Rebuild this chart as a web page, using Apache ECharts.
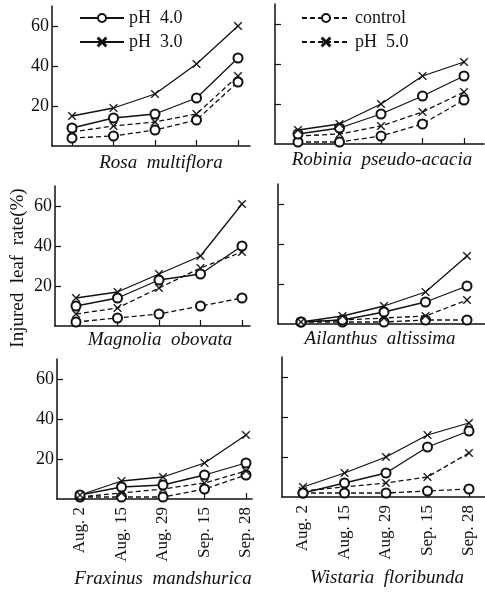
<!DOCTYPE html>
<html>
<head>
<meta charset="utf-8">
<script src="https://cdn.jsdelivr.net/npm/echarts@6/dist/echarts.min.js"></script>
<style>
  html, body { margin: 0; padding: 0; background: #fff; }
  #chart { width: 485px; height: 592px; }
</style>
</head>
<body>
<div id="chart"></div>
<script>
// sampling dates (x categories)
const dates = ['Aug. 2', 'Aug. 15', 'Aug. 29', 'Sep. 15', 'Sep. 28'];
const species = ['Rosa  multiflora', 'Robinia  pseudo-acacia', 'Magnolia  obovata',
  'Ailanthus  altissima', 'Fraxinus  mandshurica', 'Wistaria  floribunda'];
const yTicks = [20, 40, 60];

// injured leaf rate (%) per species, one list per treatment
const ph30 = [
  [15, 19, 26, 41, 60],
  [7, 10, 20, 34, 41],
  [14, 17, 26, 35, 61],
  [1, 4, 9, 16, 34],
  [2, 9, 11, 18, 32],
  [5, 12, 20, 31, 37]
];
const ph40 = [
  [9, 14, 16, 24, 44],
  [5, 8, 15, 24, 34],
  [10, 14, 23, 26, 40],
  [1, 2, 6, 11, 19],
  [2, 6, 7, 12, 18],
  [2, 7, 12, 25, 33]
];
const ph50 = [
  [7, 10, 12, 16, 35],
  [4, 5, 9, 16, 26],
  [6, 9, 19, 29, 37],
  [1, 2, 3, 4, 12],
  [1, 3, 5, 8, 14],
  [3, 5, 7, 10, 22]
];
const control = [
  [4, 5, 8, 13, 32],
  [1, 1, 4, 10, 22],
  [2, 4, 6, 10, 14],
  [1, 1, 1, 2, 2],
  [1, 1, 1, 5, 12],
  [2, 2, 2, 3, 4]
];

const FONT = "'Liberation Serif', 'DejaVu Serif', serif";
const INK = '#111';
// "x" marker
const CROSS = 'path://M0,0.8L0.8,0L5,4.2L9.2,0L10,0.8L5.8,5L10,9.2L9.2,10L5,5.8L0.8,10L0,9.2L4.2,5Z';

// panel layout: axis x, first point x, axis end x, baseline y
const panels = [
  { ax: 52, first: 72, end: 250, base: 146, title: [161, 163] },
  { ax: 275, first: 298, end: 484, base: 144, title: [382, 160] },
  { ax: 55, first: 76, end: 250, base: 326, title: [160, 340] },
  { ax: 278, first: 301, end: 485, base: 324, title: [380, 339] },
  { ax: 57, first: 80, end: 252, base: 499, title: [163, 579] },
  { ax: 282, first: 303, end: 485, base: 497, title: [387, 578] }
];
const step = 41.5;

const grid = [], xAxis = [], yAxis = [], series = [], graphic = [];

panels.forEach((p, i) => {
  grid.push({ left: p.ax, top: p.base - 140, width: p.end - p.ax, height: 140 });
  const bottomRow = i >= 4;
  xAxis.push({
    type: 'value',
    gridIndex: i,
    min: -(p.first - p.ax) / step,
    max: (p.end - p.first) / step,
    axisLine: { show: true, lineStyle: { color: INK, width: 1.5 } },
    axisTick: { show: true, inside: true, length: 6, customValues: [0, 1, 2, 3, 4], lineStyle: { color: INK, width: 1.2 } },
    axisLabel: {
      show: bottomRow,
      customValues: [0, 1, 2, 3, 4],
      rotate: 90,
      margin: 8,
      color: INK,
      fontFamily: FONT,
      fontSize: 17,
      formatter: (v) => dates[Math.round(v)]
    },
    splitLine: { show: false }
  });
  yAxis.push({
    type: 'value',
    gridIndex: i,
    min: 0,
    max: 70,
    axisLine: { show: true, onZero: false, lineStyle: { color: INK, width: 1.5 } },
    axisTick: { show: true, inside: true, length: 6, customValues: yTicks, lineStyle: { color: INK, width: 1.2 } },
    axisLabel: {
      show: i % 2 === 0,
      customValues: yTicks,
      margin: 3,
      color: INK,
      fontFamily: FONT,
      fontSize: 18
    },
    splitLine: { show: false }
  });

  const isCircle = (s) => s === 'emptyCircle';
  const mk = (name, vals, symbol, dashed) => ({
    name: name,
    type: 'line',
    xAxisIndex: i,
    yAxisIndex: i,
    data: vals.map((v, k) => [k, v]),
    symbol: symbol,
    symbolSize: isCircle(symbol) ? 9 : 8,
    lineStyle: { color: INK, width: 1.3, type: dashed ? [5, 3] : 'solid' },
    itemStyle: { color: INK, borderColor: INK, borderWidth: isCircle(symbol) ? 1.5 : 0.5 },
    emphasis: { disabled: true },
    animation: false
  });
  series.push(mk('control', control[i], 'emptyCircle', true));
  series.push(mk('pH 5.0', ph50[i], CROSS, true));
  series.push(mk('pH 4.0', ph40[i], 'emptyCircle', false));
  series.push(mk('pH 3.0', ph30[i], CROSS, false));

  graphic.push({
    type: 'text',
    x: p.title[0],
    y: p.title[1],
    style: {
      text: species[i],
      font: 'italic 19px ' + FONT,
      fill: INK,
      align: 'center',
      verticalAlign: 'middle'
    }
  });
});

graphic.push({
  type: 'text',
  x: 18,
  y: 268,
  rotation: Math.PI / 2,
  style: {
    text: 'Injured  leaf  rate(%)',
    font: '19px ' + FONT,
    fill: INK,
    align: 'center',
    verticalAlign: 'middle'
  }
});

const legendText = { color: INK, fontFamily: FONT, fontSize: 18 };
const spaced = (name) => name.replace(' ', '  ');
const option = {
  backgroundColor: '#fff',
  animation: false,
  grid: grid,
  xAxis: xAxis,
  yAxis: yAxis,
  legend: [
    { data: ['pH 4.0', 'pH 3.0'], orient: 'vertical', left: 74, top: 4, itemWidth: 44, itemHeight: 10, itemGap: 6, textStyle: legendText, formatter: spaced, selectedMode: false },
    { data: ['control', 'pH 5.0'], orient: 'vertical', left: 296, top: 4, itemWidth: 48, itemHeight: 10, itemGap: 6, textStyle: legendText, formatter: spaced, selectedMode: false }
  ],
  graphic: graphic,
  series: series
};

const myChart = echarts.init(document.getElementById('chart'));
myChart.setOption(option);
</script>
</body>
</html>
